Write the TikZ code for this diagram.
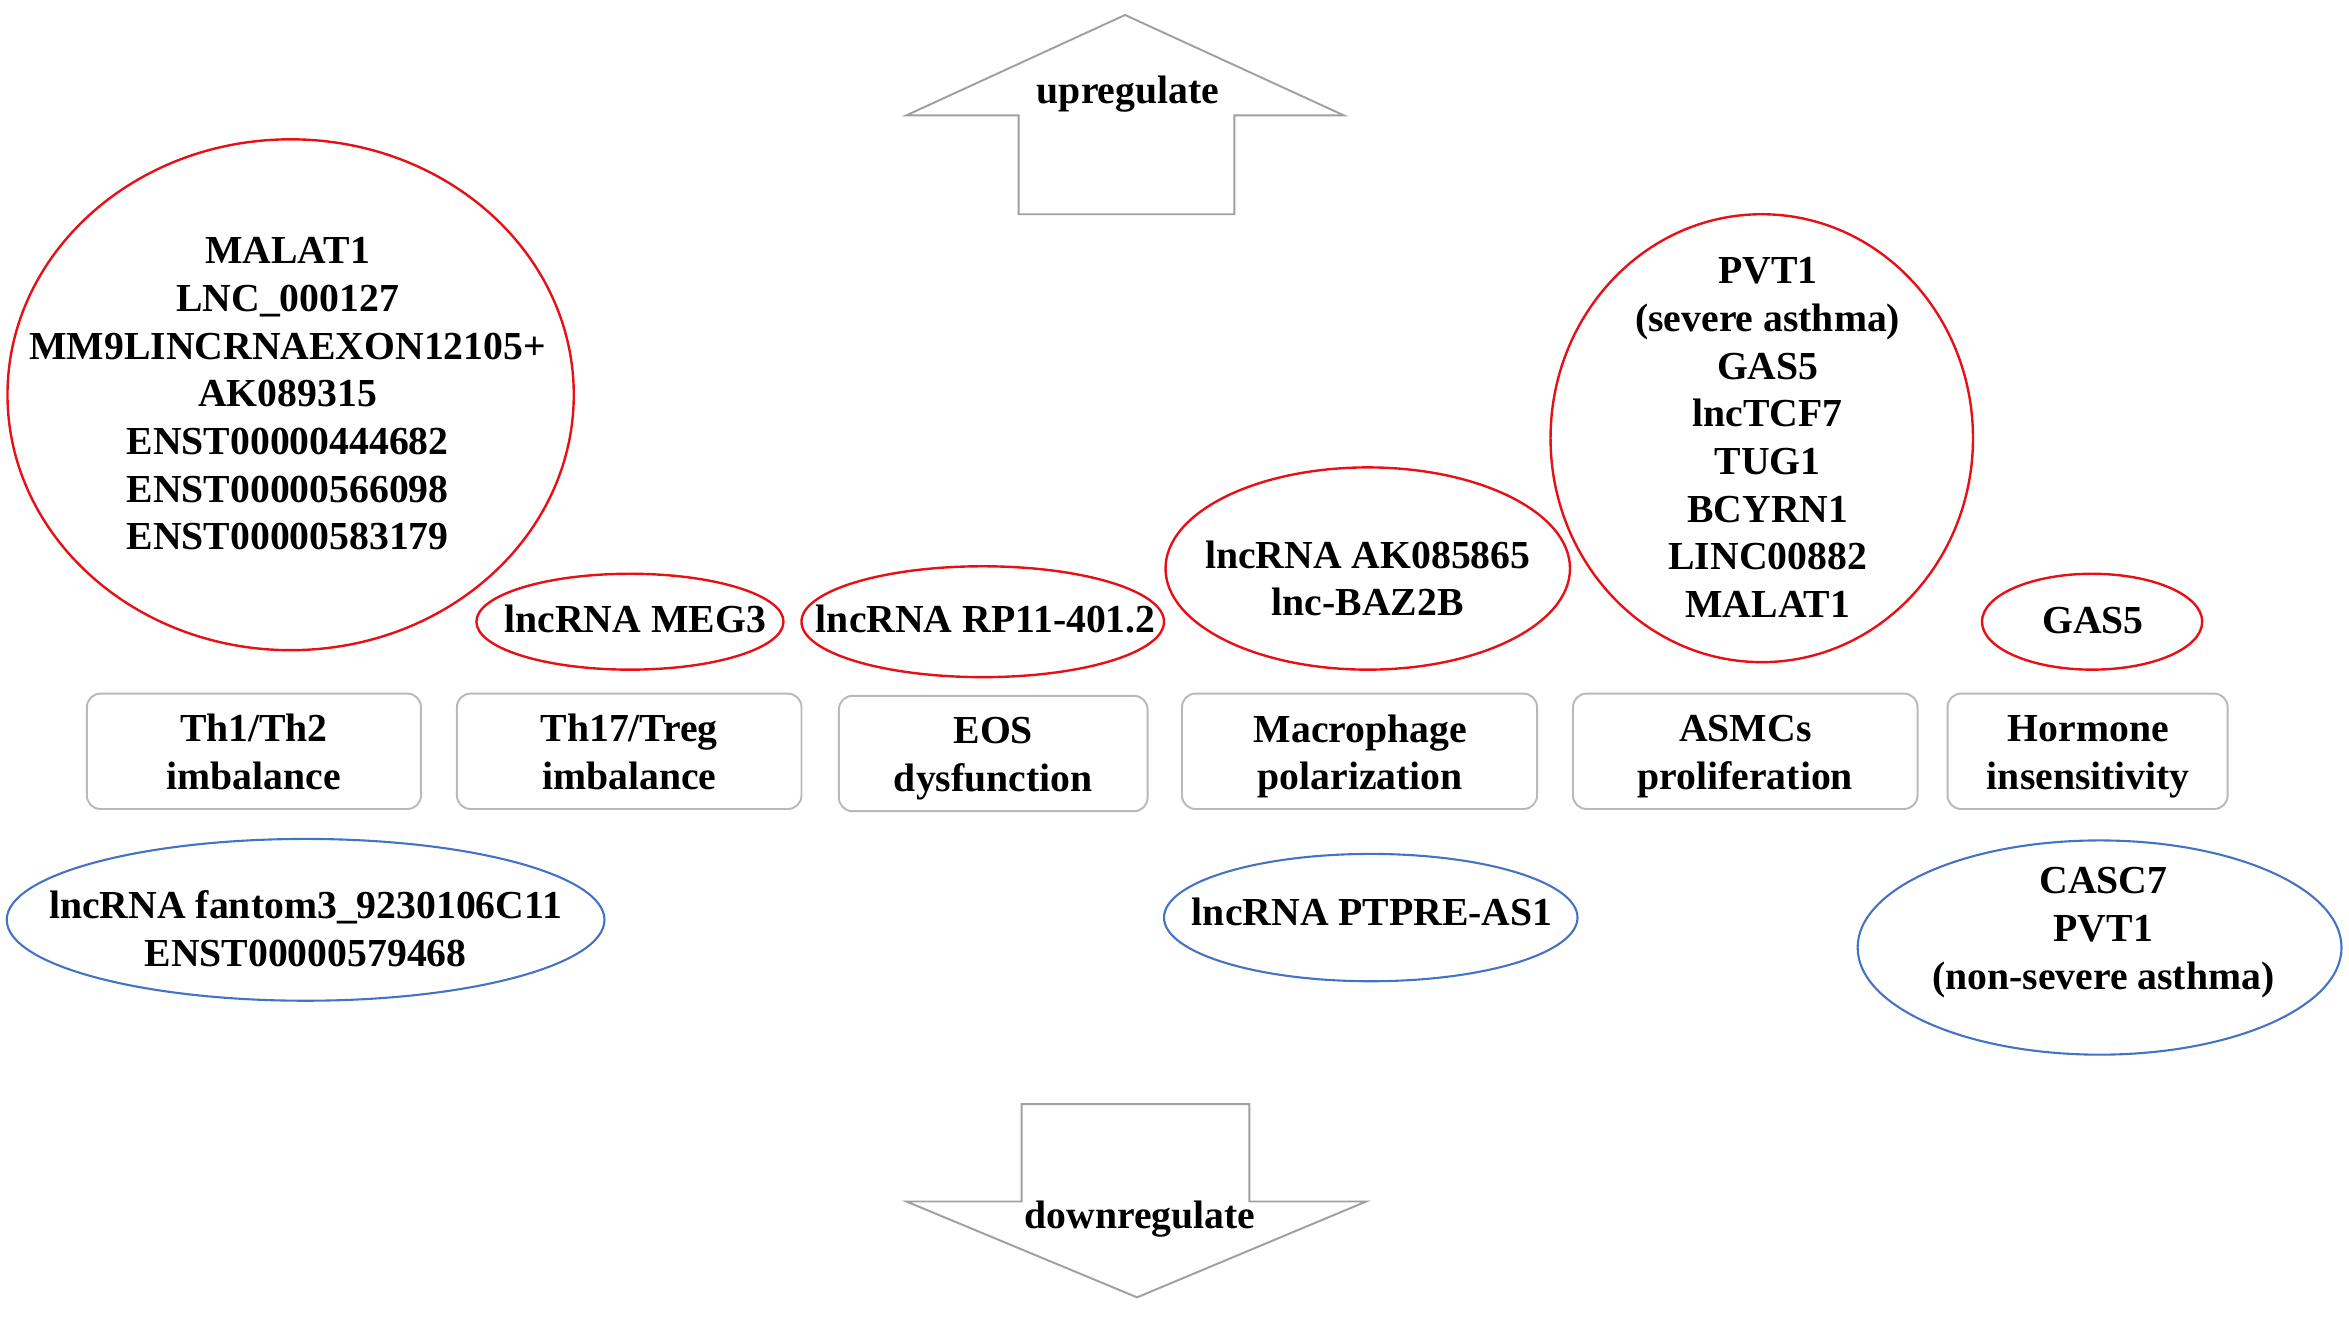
\documentclass[tikz,border=0pt]{standalone}
\usepackage{fontspec}
\setmainfont{Liberation Serif}
\usetikzlibrary{shapes.geometric}
\definecolor{ured}{RGB}{232,16,22}
\definecolor{dblue}{RGB}{68,114,196}
\definecolor{agray}{RGB}{160,160,160}
\definecolor{bgray}{RGB}{185,185,185}
\begin{document}
\begin{tikzpicture}[x=1pt,y=-1pt,
  lbl/.style={font=\bfseries\fontsize{26.5}{31.8}\selectfont, align=center, inner sep=0pt},
  upell/.style={ellipse, draw=ured, line width=1.6pt, inner sep=0pt},
  downell/.style={ellipse, draw=dblue, line width=1.4pt, inner sep=0pt},
  procbox/.style={draw=bgray, line width=1.3pt, rounded corners=9pt, inner sep=0pt, minimum height=77pt},
  bigarrow/.style={draw=agray, line width=1.3pt, line join=miter}]
\useasboundingbox (0,0) rectangle (1568,888);

% big arrows
\draw[bigarrow] (751,10) -- (897,77) -- (824,77) -- (824,143) -- (680,143) -- (680,77) -- (605,77) -- cycle;
\node[lbl] (up) at (753,63) {upregulate};
\draw[bigarrow] (682,737) -- (834,737) -- (834,802) -- (912,802) -- (759,866) -- (605,802) -- (682,802) -- cycle;
\node[lbl] (down) at (761,814) {downregulate};

% upregulated (red)
\node[upell, minimum width=378pt, minimum height=341pt] (e1) at (194,263.5) {};
\node[lbl] (t1) at (192,263) {MALAT1\\LNC\_000127\\MM9LINCRNAEXON12105+\\AK089315\\ENST00000444682\\ENST00000566098\\ENST00000583179};
\node[upell, minimum width=205pt, minimum height=64pt] (e2) at (420.5,415) {};
\node[lbl] (t2) at (424,413) {lncRNA MEG3};
\node[upell, minimum width=242pt, minimum height=74pt] (e3) at (656,415) {};
\node[lbl] (t3) at (658,413) {lncRNA RP11-401.2};
\node[upell, minimum width=270pt, minimum height=135pt] (e4) at (913,379.5) {};
\node[lbl] (t4) at (913,386) {lncRNA AK085865\\lnc-BAZ2B};
\node[upell, minimum width=282pt, minimum height=299pt] (e5) at (1176,292.5) {};
\node[lbl] (t5) at (1180,292) {PVT1\\(severe asthma)\\GAS5\\lncTCF7\\TUG1\\BCYRN1\\LINC00882\\MALAT1};
\node[upell, minimum width=147pt, minimum height=64pt] (e6) at (1396.5,415) {};
\node[lbl] (t6) at (1397,414) {GAS5};

% process boxes
\node[procbox, minimum width=223pt] (b1) at (169.5,501.5) {};
\node[lbl] (p1) at (169.5,502) {Th1/Th2\\imbalance};
\node[procbox, minimum width=230pt] (b2) at (420,501.5) {};
\node[lbl] (p2) at (420,502) {Th17/Treg\\imbalance};
\node[procbox, minimum width=206pt] (b3) at (663,503) {};
\node[lbl] (p3) at (663,506.5) {EOS\\dysfunction};
\node[procbox, minimum width=237pt] (b4) at (907.5,501.5) {};
\node[lbl] (p4) at (908,505) {Macrophage\\polarization};
\node[procbox, minimum width=230pt] (b5) at (1165,501.5) {};
\node[lbl] (p5) at (1165,505) {ASMCs\\proliferation};
\node[procbox, minimum width=187pt] (b6) at (1393.5,501.5) {};
\node[lbl] (p6) at (1394,505) {Hormone\\insensitivity};

% downregulated (blue)
\node[downell, minimum width=399pt, minimum height=108pt] (d1) at (204,614) {};
\node[lbl] (q1) at (204,620) {lncRNA fantom3\_9230106C11\\ENST00000579468};
\node[downell, minimum width=276pt, minimum height=85pt] (d2) at (915,612.5) {};
\node[lbl] (q2) at (916,609) {lncRNA PTPRE-AS1};
\node[downell, minimum width=323pt, minimum height=143pt] (d3) at (1401.5,632.5) {};
\node[lbl] (q3) at (1404,622.5) {CASC7\\PVT1\\(non-severe asthma)};
\end{tikzpicture}
\end{document}
